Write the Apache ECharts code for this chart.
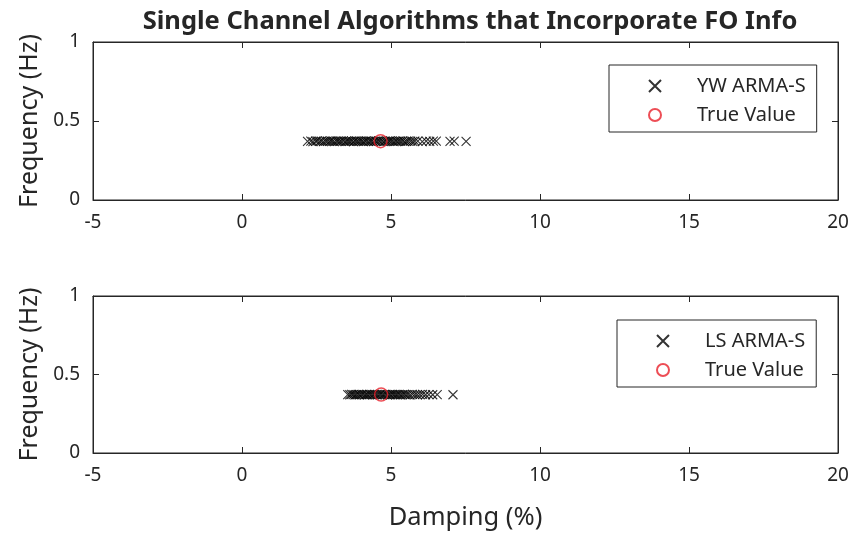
<!DOCTYPE html>
<html>
<head>
<meta charset="utf-8">
<script src="https://cdn.jsdelivr.net/npm/echarts@6/dist/echarts.min.js"></script>
<style>html,body{margin:0;padding:0;background:#fff}#c{width:866px;height:534px}</style>
</head>
<body>
<div id="c"></div>
<script>
// ---- data ----
const titleText = 'Single Channel Algorithms that Incorporate FO Info';
const xTicks = [-5, 0, 5, 10, 15, 20];
const yTicks = [0, 0.5, 1];
const ywDamping = [2.2, 2.31, 2.38, 2.47, 2.52, 2.6, 2.66, 2.73, 2.8, 2.86, 2.93, 2.98, 3.04, 3.1, 3.17, 3.22, 3.28, 3.33, 3.4, 3.46, 3.51, 3.57, 3.62, 3.68, 3.74, 3.79, 3.85, 3.9, 3.96, 4.02, 4.07, 4.13, 4.18, 4.24, 4.3, 4.35, 4.41, 4.47, 4.52, 4.58, 4.63, 4.7, 4.76, 4.81, 4.87, 4.93, 4.98, 5.04, 5.1, 5.16, 5.21, 5.27, 5.33, 5.4, 5.46, 5.52, 5.58, 5.66, 5.73, 5.8, 5.9, 6.05, 6.18, 6.3, 6.42, 6.52, 6.98, 7.12, 7.52];
const ywFreq = [0.371, 0.373, 0.370, 0.372, 0.374, 0.371, 0.372, 0.370, 0.373, 0.372, 0.371, 0.374, 0.372, 0.370, 0.373, 0.372, 0.371, 0.372, 0.374, 0.370, 0.372, 0.373, 0.371, 0.372, 0.370, 0.374, 0.372, 0.371, 0.373, 0.372, 0.370, 0.372, 0.374, 0.371, 0.372, 0.373, 0.370, 0.372, 0.371, 0.374, 0.372, 0.372, 0.370, 0.373, 0.371, 0.372, 0.374, 0.372, 0.370, 0.373, 0.371, 0.372, 0.372, 0.374, 0.370, 0.371, 0.373, 0.372, 0.371, 0.372, 0.373, 0.370, 0.372, 0.371, 0.373, 0.372, 0.371, 0.372, 0.371];
const lsDamping = [3.55, 3.62, 3.68, 3.73, 3.79, 3.84, 3.9, 3.95, 4.01, 4.06, 4.12, 4.17, 4.22, 4.28, 4.33, 4.39, 4.44, 4.5, 4.55, 4.61, 4.66, 4.72, 4.77, 4.83, 4.88, 4.94, 4.99, 5.05, 5.1, 5.16, 5.21, 5.27, 5.32, 5.38, 5.44, 5.5, 5.57, 5.64, 5.72, 5.8, 5.88, 5.97, 6.06, 6.16, 6.27, 6.4, 6.55, 7.08];
const lsFreq = [0.372, 0.371, 0.373, 0.372, 0.370, 0.372, 0.374, 0.371, 0.372, 0.373, 0.370, 0.372, 0.371, 0.374, 0.372, 0.371, 0.373, 0.372, 0.370, 0.372, 0.373, 0.371, 0.372, 0.374, 0.370, 0.372, 0.371, 0.373, 0.372, 0.371, 0.372, 0.374, 0.370, 0.372, 0.373, 0.371, 0.372, 0.370, 0.373, 0.372, 0.371, 0.372, 0.373, 0.371, 0.372, 0.371, 0.372, 0.371];
const trueTop = [[4.65, 0.372]];
const trueBottom = [[4.67, 0.372]];
const seriesNames = ['YW ARMA-S', 'LS ARMA-S', 'True Value'];

// ---- chart ----
const FONT = 'Noto Sans';
const TXT = '#262626';
const xMark = 'path://M0,0L10,10M10,0L0,10';
const zip = (a, b) => a.map((v, i) => [v, b[i]]);

const grids = [
  {left: 93, top: 42, width: 745, height: 158, show: true, borderColor: TXT, borderWidth: 1},
  {left: 93, top: 296, width: 745, height: 157, show: true, borderColor: TXT, borderWidth: 1}
];
function xAx(gi, pos, labels) {
  return {
    type: 'value', gridIndex: gi, position: pos, min: xTicks[0], max: xTicks[xTicks.length - 1], interval: 5,
    axisLine: {show: true, onZero: false, lineStyle: {color: TXT, width: 1}},
    axisTick: {show: true, inside: true, length: 6, lineStyle: {color: TXT}},
    axisLabel: {show: labels, color: TXT, fontFamily: FONT, fontSize: 19, margin: 13},
    splitLine: {show: false}
  };
}
function yAx(gi, pos, labels) {
  return {
    type: 'value', gridIndex: gi, position: pos, min: 0, max: 1, interval: 0.5,
    axisLine: {show: true, onZero: false, lineStyle: {color: TXT, width: 1}},
    axisTick: {show: true, inside: true, length: 6, lineStyle: {color: TXT}},
    axisLabel: {show: labels, color: TXT, fontFamily: FONT, fontSize: 19, margin: 13,
      formatter: v => String(v)},
    splitLine: {show: false},
    name: labels ? 'Frequency (Hz)' : '', nameLocation: 'middle', nameGap: 46,
    nameTextStyle: {color: TXT, fontFamily: FONT, fontSize: 25}
  };
}
const xAxes = [xAx(0, 'bottom', true), xAx(0, 'top', false), xAx(1, 'bottom', true), xAx(1, 'top', false)];
xAxes[2].name = 'Damping (%)';
xAxes[2].nameLocation = 'middle';
xAxes[2].nameGap = 52;
xAxes[2].nameTextStyle = {color: TXT, fontFamily: FONT, fontSize: 25.5};
const yAxes = [yAx(0, 'left', true), yAx(0, 'right', false), yAx(1, 'left', true), yAx(1, 'right', false)];

const xStyle = {color: 'rgba(0,0,0,0)', borderColor: '#000', borderWidth: 1.1};
const oStyle = {color: 'rgba(0,0,0,0)', borderColor: '#e8212b', borderWidth: 1.5};

const legendBase = {
  orient: 'vertical', itemWidth: 74, itemHeight: 12, itemGap: 9,
  borderColor: TXT, borderWidth: 1, backgroundColor: '#fff',
  padding: [11, 11, 7, 39],
  textStyle: {color: TXT, fontFamily: FONT, fontSize: 20}
};

const option = {
  animation: false,
  backgroundColor: '#fff',
  title: {text: titleText, left: 465, top: 4, textAlign: 'center',
    textStyle: {color: TXT, fontFamily: FONT, fontSize: 25.5, fontWeight: 'bold'}},
  grid: grids,
  xAxis: xAxes,
  yAxis: yAxes,
  legend: [
    Object.assign({}, legendBase, {left: 609, top: 65, data: [seriesNames[0], {name: seriesNames[2]}]}),
    Object.assign({}, legendBase, {left: 617, top: 320, data: [seriesNames[1]]})
  ],
  series: [
    {name: seriesNames[0], type: 'scatter', xAxisIndex: 0, yAxisIndex: 0, data: zip(ywDamping, ywFreq),
      symbol: xMark, symbolSize: 9, itemStyle: xStyle, z: 2},
    {name: seriesNames[2], type: 'scatter', xAxisIndex: 0, yAxisIndex: 0, data: trueTop,
      symbol: 'circle', symbolSize: 13, itemStyle: oStyle, z: 3},
    {name: seriesNames[1], type: 'scatter', xAxisIndex: 2, yAxisIndex: 2, data: zip(lsDamping, lsFreq),
      symbol: xMark, symbolSize: 9, itemStyle: xStyle, z: 2},
    {name: seriesNames[2] + ' ', type: 'scatter', xAxisIndex: 2, yAxisIndex: 2, data: trueBottom,
      symbol: 'circle', symbolSize: 13, itemStyle: oStyle, z: 3}
  ]
};
option.legend[1].data.push(seriesNames[2] + ' ');
option.legend[1].formatter = n => n.trim();
const chart = echarts.init(document.getElementById('c'), null, {renderer: 'canvas'});
chart.setOption(option);
</script>
</body>
</html>
